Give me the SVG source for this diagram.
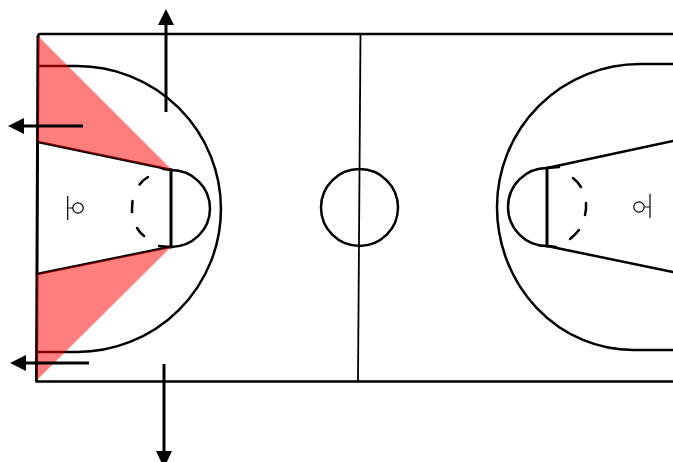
<svg xmlns="http://www.w3.org/2000/svg" width="673" height="462" viewBox="0 0 673 462">
<style>
.l{fill:none;stroke:#000;stroke-width:2.500;stroke-linecap:round;stroke-linejoin:round}
.c{fill:none;stroke:#000;stroke-width:1.800}
.t{fill:none;stroke:#000;stroke-width:1.200}
.a{fill:none;stroke:#000;stroke-width:3}
.h{fill:#000;stroke:none}
.r{fill:#ff0000;fill-opacity:.5;stroke:none}
</style>
<rect width="673" height="462" fill="#fff"/>
<g id="court">
<path class="l" d="M673 34H40Q38 34 38 37"/>
<path class="l" d="M36.500 381.500H673"/>
<path class="a" d="M38 36L36.500 381.500"/>
<path class="c" d="M360.500 34L358 381"/>
</g>
<g id="center-circle"><circle class="l" cx="359.500" cy="207.500" r="38.500"/></g>
<g id="left-half">
<path class="l" d="M38 66H77A144 143 0 0 1 77 352H37"/>
<path class="l" d="M38 142L172 170M37 274L172 246.500"/>
<path class="l" style="stroke-width:3" d="M171 170V247"/>
<path class="l" d="M171 170A39 38.500 0 0 1 171 247"/>
<path class="l" d="M163 169L172 170M159 246L170 247"/>
<path class="l" d="M148 177Q143 180 139.500 184.500M132.500 201Q132 206 132 212M137 228Q140 233 144 236"/>
<path class="t" d="M67.700 196V220M68 208H73"/>
<circle class="t" cx="78" cy="208" r="5.200"/>
</g>
<g id="right-half">
<path class="l" d="M673 64H640A143 143 0 0 0 497 207A136 143 0 0 0 633 350H673"/>
<path class="l" d="M547 168L673 141M547 246L673 272"/>
<path class="l" style="stroke-width:3" d="M547 168V246"/>
<path class="l" d="M547 168A39 39 0 0 0 547 246"/>
<path class="l" d="M548 168L559 167M548 246L556 247"/>
<path class="l" d="M573 178Q578 182 581 187M586 203Q586.500 209 585 215M579 230Q575 235 570 239"/>
<path class="t" d="M650 194V218M645 207H650"/>
<circle class="t" cx="639" cy="207" r="5.200"/>
</g>
<g id="shading">
<polygon class="r" points="38,36 172,170 38,142"/>
<polygon class="r" points="37,274 171,247 37,380"/>
</g>
<g id="connectors">
<path class="a" d="M166 112V22"/><polygon class="h" points="166,9 158,25 174,25"/>
<path class="a" d="M83 126H22"/><polygon class="h" points="8,126 24,118 24,134"/>
<path class="a" d="M89 363H24"/><polygon class="h" points="10,363 26,355 26,371"/>
<path class="a" d="M164 364V454"/><polygon class="h" points="164,468 156,451 172,451"/>
</g>
</svg>
